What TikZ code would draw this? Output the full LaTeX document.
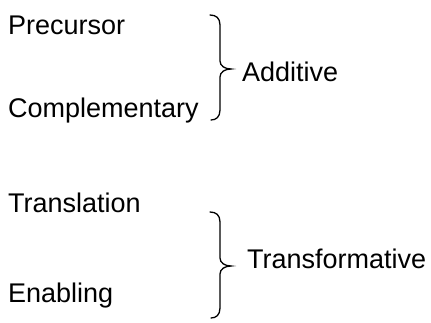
\documentclass[tikz,border=0pt]{standalone}
\usepackage{fontspec}
\setmainfont{Liberation Sans}
\begin{document}
\begin{tikzpicture}[x=1pt,y=-1pt,
  lbl/.style={anchor=base west,inner sep=0pt,font=\fontsize{27}{31}\selectfont},
  bracepath/.style={line width=1.3pt,line cap=round}]
\useasboundingbox (0,0) rectangle (431,323);

% item labels
\node[lbl] (pre)  at (8,35)  {Precursor};
\node[lbl] (comp) at (8,118) {Complementary};
\node[lbl] (tra)  at (8,213) {Translation};
\node[lbl] (ena)  at (8,302) {Enabling};

% group labels
\node[lbl] (add) at (242,82)  {Additive};
\node[lbl] (trf) at (247,268) {Transformative};

% brace: Additive
\coordinate (a1) at (210,15);
\coordinate (am) at (231,69);
\coordinate (a2) at (211,120);
\draw[bracepath] (a1) .. controls (216,15) and (220,18) .. (220,25)
  -- (220,61) .. controls (220,66) and (225,69) .. (am)
  .. controls (225,69) and (220,72) .. (220,77)
  -- (220,110) .. controls (220,117) and (216,120) .. (a2);

% brace: Transformative
\coordinate (t1) at (210,212);
\coordinate (tm) at (231,266);
\coordinate (t2) at (211,318);
\draw[bracepath] (t1) .. controls (216,212) and (220,215) .. (220,222)
  -- (220,258) .. controls (220,263) and (225,266) .. (tm)
  .. controls (225,266) and (220,269) .. (220,274)
  -- (220,308) .. controls (220,315) and (216,318) .. (t2);
\end{tikzpicture}
\end{document}
